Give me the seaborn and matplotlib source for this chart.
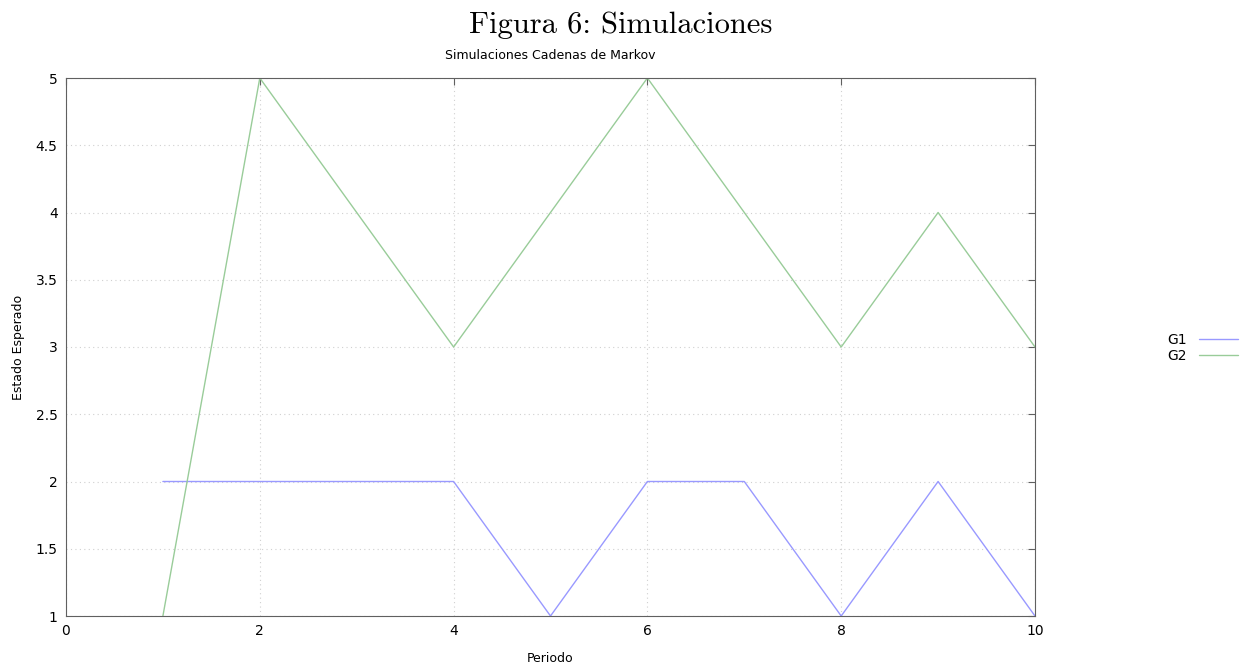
import pandas as pd
import matplotlib
matplotlib.use("Agg")
import matplotlib.pyplot as plt
import seaborn as sns
from matplotlib.lines import Line2D

# Datos
periodo = [1, 2, 3, 4, 5, 6, 7, 8, 9, 10]
g1 = [2, 2, 2, 2, 1, 2, 2, 1, 2, 1]
g2 = [1, 5, 4, 3, 4, 5, 4, 3, 4, 3]

df = pd.DataFrame({
    "Periodo": periodo * 2,
    "Estado": g1 + g2,
    "Serie": ["G1"] * len(g1) + ["G2"] * len(g2),
})

sns.set_style("white")
plt.rcParams['font.family'] = ['DejaVu Sans']
plt.rcParams['text.color'] = 'black'
plt.rcParams['axes.labelcolor'] = 'black'
plt.rcParams['xtick.labelcolor'] = 'black'
plt.rcParams['ytick.labelcolor'] = 'black'

fig = plt.figure(figsize=(12.41, 6.65), dpi=100)
ax = fig.add_axes([66 / 1241, 1 - 616 / 665, (1035 - 66) / 1241, (616 - 78) / 665])

colores = {"G1": "#9999ff", "G2": "#99cc99"}
sns.lineplot(data=df, x="Periodo", y="Estado", hue="Serie", palette=colores,
             linewidth=1, ax=ax, legend=False)

ax.set_xlim(0, 10)
ax.set_ylim(1, 5)
ax.set_xticks([0, 2, 4, 6, 8, 10])
ax.set_yticks([1, 1.5, 2, 2.5, 3, 3.5, 4, 4.5, 5])
ax.set_yticklabels(["1", "1.5", "2", "2.5", "3", "3.5", "4", "4.5", "5"])
ax.grid(True, linestyle=(0, (1, 3)), color="#d0d0d0", linewidth=0.8)
for s in ax.spines.values():
    s.set_color("#606060")
    s.set_linewidth(0.8)
ax.tick_params(direction="in", length=5, color="#606060", labelsize=10,
               top=True, right=True, pad=6)
ax.set_xlabel("Periodo", fontsize=9, labelpad=10)
ax.set_ylabel("Estado Esperado", fontsize=9, labelpad=8)
ax.set_title("Simulaciones Cadenas de Markov", fontsize=9, pad=14, color="black")

# titulo tipo LaTeX (Computer Modern incluida en matplotlib)
fig.text(0.5, 1 - 25 / 665, "Figura 6: Simulaciones",
         ha="center", va="center", fontsize=22, family="cmr10", color="black")

handles = [Line2D([], [], color=colores["G1"], linewidth=1),
           Line2D([], [], color=colores["G2"], linewidth=1)]
fig.legend(handles, ["G1", "G2"], loc="center right", bbox_to_anchor=(1 - 3 / 1241, 1 - 348 / 665),
           frameon=False, markerfirst=False, fontsize=10, handlelength=2.8,
           labelspacing=0.1, handletextpad=0.9, borderaxespad=0, borderpad=0)

fig.savefig("out.png", dpi=100)
